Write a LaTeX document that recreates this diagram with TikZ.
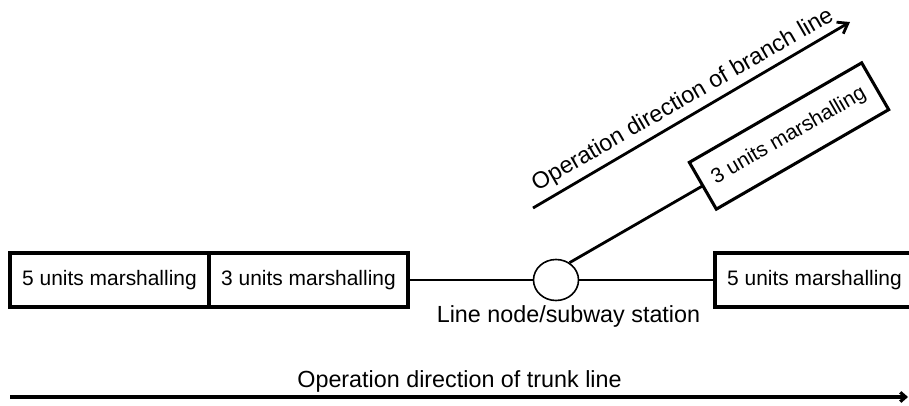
\documentclass[tikz,border=0pt]{standalone}
\usepackage{fontspec}
\setmainfont{Liberation Sans}
\usetikzlibrary{arrows.meta, positioning, shapes.geometric}
\tikzset{
  unitbox/.style={
    rectangle, draw, fill=white, line width=2.3pt,
    minimum width=149.25pt, minimum height=40.5pt,
    inner sep=0pt, outer sep=0pt,
    font=\fontsize{15.7}{19}\selectfont,
  },
  station/.style={
    ellipse, draw, fill=white, line width=1.2pt,
    minimum width=33.75pt, minimum height=30.75pt, inner sep=0pt,
  },
  track/.style={line width=2.1pt},
  dirarr/.style={-{Straight Barb[length=7pt, width=10pt]}, line width=2.1pt},
  lbl/.style={font=\fontsize{17.5}{21}\selectfont, inner sep=0pt},
}

\begin{document}
\begin{tikzpicture}[x=0.75pt, y=0.75pt]
\path[use as bounding box, clip] (0,0) rectangle (909,405);

% ── trunk row ─────────────────────────────────────────────────────────
\node[unitbox] (five) at (109.5,125) {5 units marshalling};
\node[unitbox, right=0pt of five] (three) {3 units marshalling};
\node[station] (stn) at (556,125) {};
\node[unitbox, anchor=west] (fiveR) at (715,125) {5 units marshalling};
\node[lbl, anchor=base] (stnlbl) at (568.5,83) {Line node/subway station};

% ── branch ────────────────────────────────────────────────────────────
\node[unitbox, rotate=30] (branch) at (789,269) {3 units marshalling};

% ── tracks ────────────────────────────────────────────────────────────
\draw[track] (three.east) -- (stn.west);
\draw[track] (stn.east)   -- (fiveR.west);
\draw[track] (stn.52)     -- (branch.west);

% ── branch direction ─────────────────────────────────────────────────
\coordinate (brS) at (533,197);
\coordinate (brE) at (850,383);
\draw[dirarr] (brS) -- (brE);
\node[lbl, rotate=30, anchor=base] (brlbl) at (686,299.5)
      {Operation direction of branch line};

% ── trunk direction ──────────────────────────────────────────────────
\coordinate (trS) at (10,8);
\coordinate (trE) at (908,8);
\draw[dirarr, line width=2.4pt, -{Straight Barb[length=4pt, width=7pt]}] (trS) -- (trE);
\node[lbl, anchor=base] (trlbl) at (459.5,18) {Operation direction of trunk line};

\end{tikzpicture}
\end{document}
